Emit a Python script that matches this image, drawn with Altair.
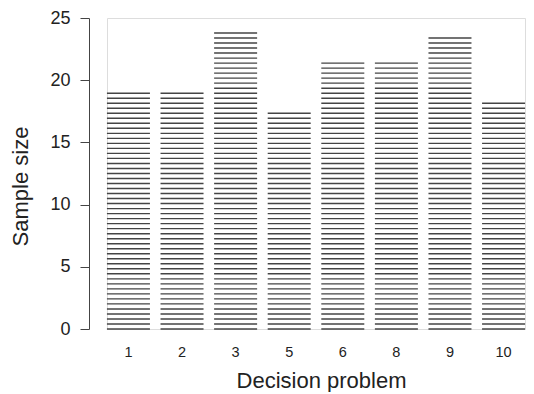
import altair as alt
import numpy as np
import pandas as pd

problems = ["1", "2", "3", "5", "6", "8", "9", "10"]
sample_size = [18.95, 18.95, 23.8, 17.35, 21.38, 21.38, 23.4, 18.2]

# hatch spacing (styling): horizontal lines drawn inside each bar
HATCH = 0.4033
rows = []
for p, v in zip(problems, sample_size):
    n = int(round(v / HATCH))
    for k in range(n + 1):
        rows.append({"problem": p, "y": k * HATCH})
df = pd.DataFrame(rows)

x = alt.X(
    "problem:N",
    sort=problems,
    scale=alt.Scale(paddingInner=0.2, paddingOuter=0),
    axis=alt.Axis(
        title="Decision problem",
        labelAngle=0,
        domain=False,
        ticks=False,
        labelPadding=16,
        labelFontSize=14.5,
        labelColor="#222",
        titleFontSize=22,
        titleFontWeight="normal",
        titleColor="#222",
        titlePadding=12,
        titleX=214,
        titleAlign="center",
        labelFont="Liberation Sans",
        titleFont="Liberation Sans",
    ),
)
y = alt.Y(
    "y:Q",
    scale=alt.Scale(domain=[0, 25], nice=False),
    axis=alt.Axis(
        title="Sample size",
        values=[0, 5, 10, 15, 20, 25],
        offset=18,
        grid=False,
        domainColor="#444",
        tickColor="#444",
        tickSize=9,
        labelPadding=10,
        labelFontSize=18,
        labelColor="#222",
        titleFontSize=22,
        titleFontWeight="normal",
        titleColor="#222",
        titlePadding=17,
        titleY=168,
        titleAlign="center",
        labelFont="Liberation Sans",
        titleFont="Liberation Sans",
    ),
)

chart = (
    alt.Chart(df)
    .mark_tick(color="#444", thickness=1.4, size=43, opacity=1)
    .encode(x=x, y=y)
    .properties(
        width=418,
        height=311,
        padding={"left": 99, "top": 10, "right": 1, "bottom": 63},
        autosize=alt.AutoSizeParams(type="none"),
    )
    .configure_view(stroke=None)
    .configure(background="white")
)

chart.save("out.html", embed_options={"renderer": "svg", "actions": False})
